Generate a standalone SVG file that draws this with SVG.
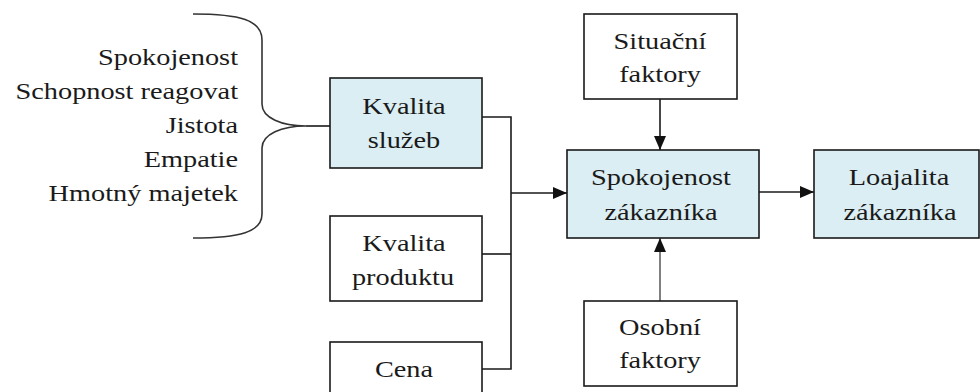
<svg xmlns="http://www.w3.org/2000/svg" width="980" height="392" viewBox="0 0 980 392">
<defs>
<marker id="ah" markerUnits="userSpaceOnUse" markerWidth="14" markerHeight="12" refX="14" refY="6" orient="auto">
<path d="M0,0 L14,6 L0,12 Z" fill="#111"/>
</marker>
</defs>
<rect width="980" height="392" fill="#ffffff"/>
<g id="brace">
<path d="M193,14 C240,14 262,20 262,40 L262,104 C262,118 282,126 306,126 C282,126 262,134 262,148 L262,214 C262,232 240,238 193,238" fill="none" stroke="#333" stroke-width="1.6"/>
<text font-family="Liberation Serif" font-size="24" fill="#1a1a1a" text-anchor="end" transform="translate(238,65) scale(1.18,1)">Spokojenost</text>
<text font-family="Liberation Serif" font-size="24" fill="#1a1a1a" text-anchor="end" transform="translate(238,99) scale(1.18,1)">Schopnost reagovat</text>
<text font-family="Liberation Serif" font-size="24" fill="#1a1a1a" text-anchor="end" transform="translate(238,133) scale(1.18,1)">Jistota</text>
<text font-family="Liberation Serif" font-size="24" fill="#1a1a1a" text-anchor="end" transform="translate(238,167) scale(1.18,1)">Empatie</text>
<text font-family="Liberation Serif" font-size="24" fill="#1a1a1a" text-anchor="end" transform="translate(238,201) scale(1.18,1)">Hmotný majetek</text>
</g>
<g id="connectors" fill="none" stroke="#1a1a1a" stroke-width="1.6">
<line x1="306" y1="126" x2="330" y2="126"/>
<polyline points="482,117 511,117 511,369 482,369"/>
<line x1="482" y1="254" x2="511" y2="254"/>
<line x1="511" y1="193" x2="567" y2="193" marker-end="url(#ah)"/>
<line x1="660" y1="99" x2="660" y2="150" marker-end="url(#ah)"/>
<line x1="660" y1="301" x2="660" y2="238" stroke="#808080" stroke-width="2" marker-end="url(#ah)"/>
<line x1="759" y1="192" x2="814" y2="192" marker-end="url(#ah)"/>
</g>
<g id="kvalita-sluzeb">
<rect x="330" y="78" width="152" height="90" fill="#DAEEF3" stroke="#1a1a1a" stroke-width="1.6"/>
<text font-family="Liberation Serif" font-size="24" fill="#1a1a1a" text-anchor="middle" transform="translate(404,114) scale(1.18,1)">Kvalita</text>
<text font-family="Liberation Serif" font-size="24" fill="#1a1a1a" text-anchor="middle" transform="translate(404,148) scale(1.18,1)">služeb</text>
</g>
<g id="kvalita-produktu">
<rect x="330" y="216" width="152" height="85" fill="#ffffff" stroke="#1a1a1a" stroke-width="1.6"/>
<text font-family="Liberation Serif" font-size="24" fill="#1a1a1a" text-anchor="middle" transform="translate(404,251) scale(1.18,1)">Kvalita</text>
<text font-family="Liberation Serif" font-size="24" fill="#1a1a1a" text-anchor="middle" transform="translate(403,285) scale(1.18,1)">produktu</text>
</g>
<g id="cena">
<rect x="330" y="342" width="152" height="85" fill="#ffffff" stroke="#1a1a1a" stroke-width="1.6"/>
<text font-family="Liberation Serif" font-size="24" fill="#1a1a1a" text-anchor="middle" transform="translate(404,377) scale(1.18,1)">Cena</text>
</g>
<g id="situacni">
<rect x="584" y="14" width="153" height="85" fill="#ffffff" stroke="#1a1a1a" stroke-width="1.6"/>
<text font-family="Liberation Serif" font-size="24" fill="#1a1a1a" text-anchor="middle" transform="translate(660,49) scale(1.18,1)">Situační</text>
<text font-family="Liberation Serif" font-size="24" fill="#1a1a1a" text-anchor="middle" transform="translate(660,82) scale(1.18,1)">faktory</text>
</g>
<g id="spokojenost">
<rect x="567" y="150" width="192" height="88" fill="#DAEEF3" stroke="#1a1a1a" stroke-width="1.6"/>
<text font-family="Liberation Serif" font-size="24" fill="#1a1a1a" text-anchor="middle" transform="translate(661,185) scale(1.18,1)">Spokojenost</text>
<text font-family="Liberation Serif" font-size="24" fill="#1a1a1a" text-anchor="middle" transform="translate(661,220) scale(1.18,1)">zákazníka</text>
</g>
<g id="loajalita">
<rect x="814" y="150" width="165" height="88" fill="#DAEEF3" stroke="#1a1a1a" stroke-width="1.6"/>
<text font-family="Liberation Serif" font-size="24" fill="#1a1a1a" text-anchor="middle" transform="translate(899,185) scale(1.18,1)">Loajalita</text>
<text font-family="Liberation Serif" font-size="24" fill="#1a1a1a" text-anchor="middle" transform="translate(900,220) scale(1.18,1)">zákazníka</text>
</g>
<g id="osobni">
<rect x="584" y="301" width="153" height="85" fill="#ffffff" stroke="#1a1a1a" stroke-width="1.6"/>
<text font-family="Liberation Serif" font-size="24" fill="#1a1a1a" text-anchor="middle" transform="translate(660,335) scale(1.18,1)">Osobní</text>
<text font-family="Liberation Serif" font-size="24" fill="#1a1a1a" text-anchor="middle" transform="translate(660,368) scale(1.18,1)">faktory</text>
</g>
</svg>
